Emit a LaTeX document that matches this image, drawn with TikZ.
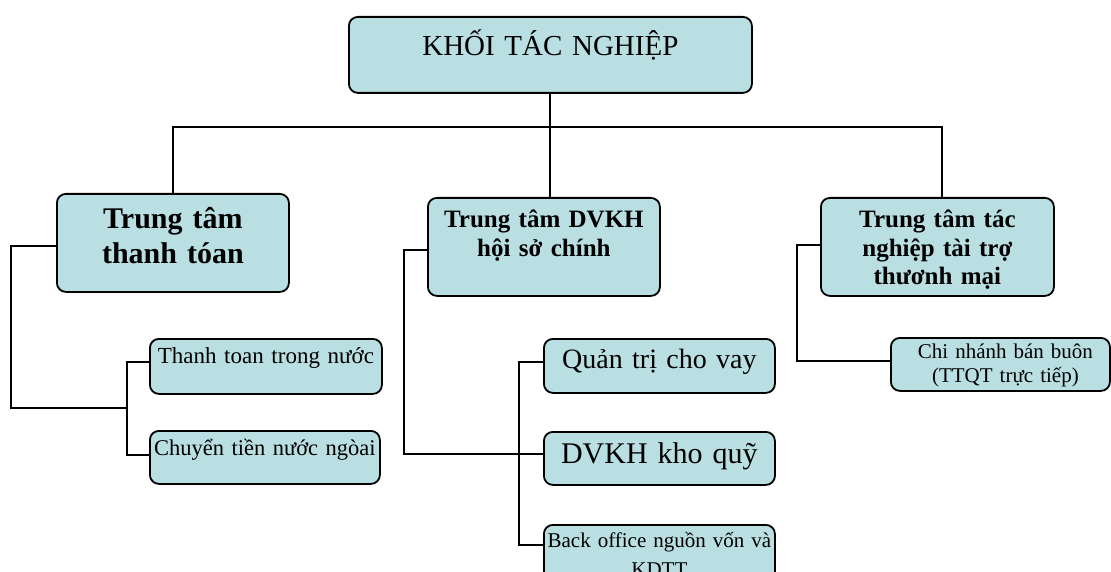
\documentclass[tikz,border=0pt]{standalone}
\usepackage{fontspec}
\setmainfont{Liberation Serif}
\definecolor{boxfill}{RGB}{185,223,226}
\tikzset{
  unitbox/.style={draw=black, line width=1.8pt, fill=boxfill, rounded corners=9pt,
    anchor=north west, inner sep=0pt, align=center},
  link/.style={draw=black, line width=2pt},
}
\begin{document}
\begin{tikzpicture}[x=1pt, y=-1pt]
\useasboundingbox (0,0) rectangle (1111,572);
\clip (0,0) rectangle (1111,572);

% head unit
\node[unitbox, text width=403pt, text height=39pt, text depth=37pt,
      font=\fontsize{29}{35}\selectfont] (top) at (348,16) {KHỐI TÁC NGHIỆP};

% centres
\node[unitbox, text width=232pt, text height=35pt, text depth=63pt,
      font=\bfseries\fontsize{30}{35}\selectfont] (tt) at (56,193) {Trung tâm\\thanh tóan};
\node[unitbox, text width=232pt, text height=30pt, text depth=68pt,
      font=\bfseries\fontsize{25}{29}\selectfont] (dv) at (427,197) {Trung tâm DVKH\\hội sở chính};
\node[unitbox, text width=233pt, text height=30pt, text depth=68pt,
      font=\bfseries\fontsize{25}{28.5}\selectfont] (tn) at (820,197) {Trung tâm tác\\nghiệp tài trợ\\thươnh mại};

% units under the payment centre
\node[unitbox, text width=232pt, text height=25pt, text depth=30pt,
      font=\fontsize{23}{26}\selectfont] (c1) at (149,338) {Thanh toan trong nước};
\node[unitbox, text width=230pt, text height=25pt, text depth=28pt,
      font=\fontsize{22.5}{26}\selectfont] (c2) at (149,430) {Chuyển tiền nước ngòai};

% units under the customer service centre
\node[unitbox, text width=231pt, text height=30pt, text depth=24pt,
      font=\fontsize{28}{32}\selectfont] (d1) at (543,338) {Quản trị cho vay};
\node[unitbox, text width=231pt, text height=32pt, text depth=21pt,
      font=\fontsize{30}{34}\selectfont] (d2) at (543,431) {DVKH kho quỹ};
\node[unitbox, text width=231pt, text height=23pt, text depth=60pt,
      font=\fontsize{21}{29}\selectfont] (d3) at (543,524) {Back office nguồn vốn và\\KDTT};

% unit under the trade finance centre
\node[unitbox, text width=219pt, text height=21pt, text depth=32pt,
      font=\fontsize{21}{24}\selectfont] (t1) at (890,337) {\hspace*{10pt}Chi nhánh bán buôn\\\hspace*{10pt}(TTQT trực tiếp)};

% head to centres
\coordinate (bus) at (549,127);
\draw[link] (top.south) -- (top.south |- dv.north);
\draw[link] (tt.north) |- (bus);
\draw[link] (bus) -| ([xshift=5pt]tn.north);

% payment centre branch
\coordinate (ttrail) at (11,408);
\coordinate (ttjoin) at (127,408);
\draw[link] ([yshift=-3pt]tt.west) -| (ttrail) -- (ttjoin);
\draw[link] ([yshift=4pt]c1.west) -| (ttjoin) |- ([yshift=2pt]c2.west);

% customer service centre branch
\coordinate (dvrail) at (404,454);
\coordinate (dvspine) at (519,545);
\draw[link] ([yshift=-3pt]dv.west) -| (dvrail) -- (dvrail -| d2.west);
\draw[link] ([yshift=4pt]d1.west) -| (dvspine) -- (dvspine -| d3.west);

% trade finance centre branch
\coordinate (tnrail) at (797,361);
\draw[link] ([yshift=2pt]tn.west) -| (tnrail) -- (tnrail -| t1.west);
\end{tikzpicture}
\end{document}
